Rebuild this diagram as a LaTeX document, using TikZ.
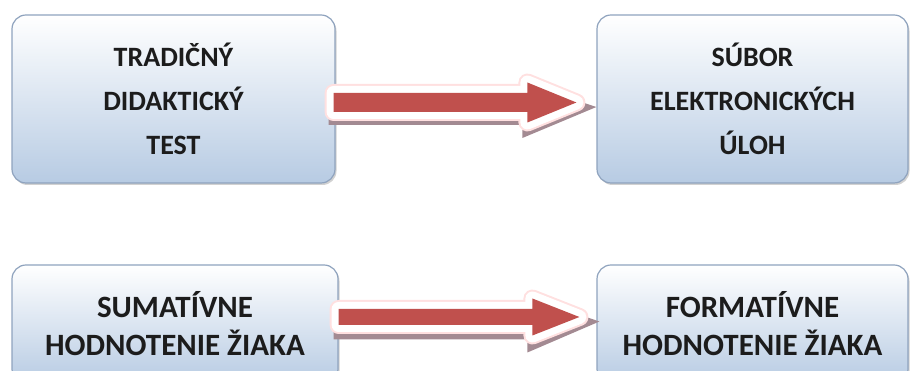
\documentclass[tikz,border=0pt]{standalone}
\usepackage{fontspec}
\setmainfont{Carlito}
\usetikzlibrary{calc,shadows}
\definecolor{boxblue}{HTML}{B7CBE3}
\definecolor{boxline}{HTML}{8FA3BE}
\definecolor{arrowred}{HTML}{C0504D}
\definecolor{arrowshade}{HTML}{A38A92}
\definecolor{textblack}{HTML}{1C1C1C}
\newcommand{\fatarrow}[5]{%
\fill[arrowshade] ($(#1)+(-5,2)$) -- ($(#2)+(-#5-5,2)$) -- ($(#2)+(-#5-5,20)$) -- ($(#2)+(20,-4.5)$) -- ($(#2)+(-#5-5,-35.5)$) -- ($(#2)+(-#5-5,-22.5)$) -- ($(#1)+(-5,-22.5)$) -- cycle;
\draw[red!12, line width=18pt, line join=round] ($(#1)+(0,#3)$) -- ($(#2)+(-#5,#3)$) -- ($(#2)+(-#5,#4)$) -- (#2) -- ($(#2)+(-#5,-#4)$) -- ($(#2)+(-#5,-#3)$) -- ($(#1)+(0,-#3)$) -- cycle;
\draw[white, line width=14pt, line join=round] ($(#1)+(0,#3)$) -- ($(#2)+(-#5,#3)$) -- ($(#2)+(-#5,#4)$) -- (#2) -- ($(#2)+(-#5,-#4)$) -- ($(#2)+(-#5,-#3)$) -- ($(#1)+(0,-#3)$) -- cycle;
\fill[arrowred] ($(#1)+(0,#3)$) -- ($(#2)+(-#5,#3)$) -- ($(#2)+(-#5,#4)$) -- (#2) -- ($(#2)+(-#5,-#4)$) -- ($(#2)+(-#5,-#3)$) -- ($(#1)+(0,-#3)$) -- cycle;
}

\begin{document}
\begin{tikzpicture}[x=1pt,y=1pt,
  box/.style={draw=boxline, line width=1.2pt, rounded corners=14pt,
    top color=white, bottom color=boxblue, align=center, text=textblack,
    drop shadow={shadow xshift=1.5pt, shadow yshift=-2pt, fill=black!40, opacity=0.45}},
  bigtext/.style={font=\bfseries\fontsize{28}{44}\selectfont},
  smalltext/.style={font=\bfseries\fontsize{31}{38}\selectfont}]
\useasboundingbox (0,0) rectangle (910,371);
\node[box, bigtext, minimum width=323, minimum height=168] (trad) at (173.5,272) {TRADIČNÝ\\DIDAKTICKÝ\\TEST};
\node[box, bigtext, minimum width=311, minimum height=168] (subor) at (752.5,272) {SÚBOR\\ELEKTRONICKÝCH\\ÚLOH};
\node[box, smalltext, minimum width=326, minimum height=118] (sum) at (175,47) {SUMATÍVNE\\HODNOTENIE ŽIAKA};
\node[box, smalltext, minimum width=311, minimum height=118] (form) at (752.5,47) {FORMATÍVNE\\HODNOTENIE ŽIAKA};
\coordinate (ta) at ([shift={(-2pt,-3.5pt)}]trad.east);
\coordinate (tb) at ([xshift=-20pt]subor.west |- ta);
\coordinate (sa) at (sum.east |- 0,54);
\coordinate (sb) at ([xshift=-17pt]form.west |- sa);
\fatarrow{ta}{tb}{9.5}{20}{49}
\fatarrow{sa}{sb}{8}{18.5}{47}
\end{tikzpicture}
\end{document}
